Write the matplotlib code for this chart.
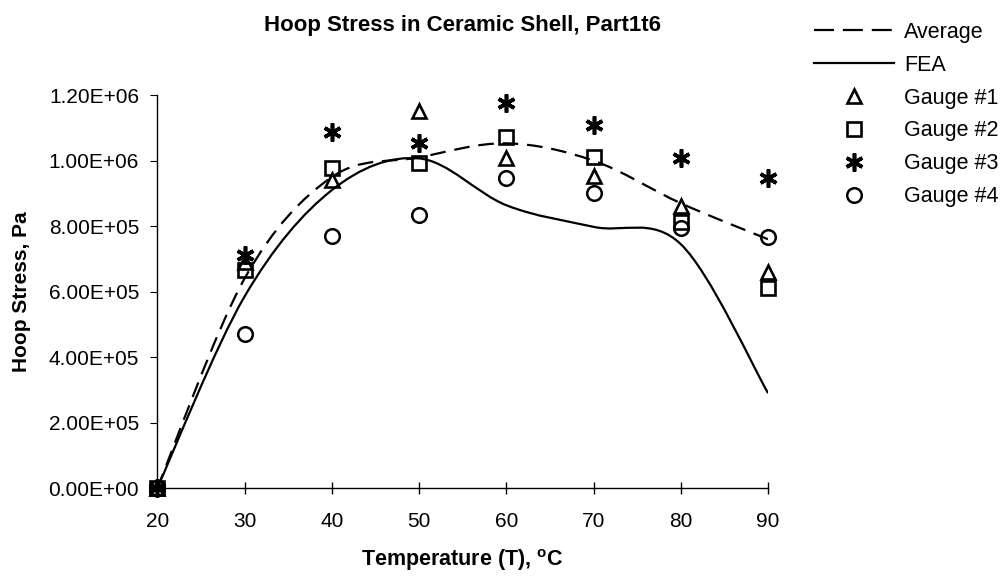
import numpy as np
import matplotlib
matplotlib.use("Agg")
import matplotlib.pyplot as plt
from matplotlib.path import Path
from matplotlib.patches import PathPatch
from matplotlib.lines import Line2D

plt.rcParams['font.family'] = ['Liberation Sans', 'DejaVu Sans']
plt.rcParams['mathtext.fontset'] = 'custom'
plt.rcParams['mathtext.bf'] = 'Liberation Sans:bold'
plt.rcParams['mathtext.rm'] = 'Liberation Sans'

# temperature steps, deg C
temps = [20, 30, 40, 50, 60, 70, 80, 90]

# measured hoop stress per gauge, Pa
gauge1 = [0, 6.90e5, 9.40e5, 1.152e6, 1.007e6, 9.53e5, 8.61e5, 6.60e5]
gauge2 = [0, 6.66e5, 9.79e5, 9.93e5, 1.072e6, 1.010e6, 8.13e5, 6.10e5]
gauge3 = [0, 7.11e5, 1.087e6, 1.054e6, 1.175e6, 1.108e6, 1.007e6, 9.46e5]
gauge4 = [0, 4.70e5, 7.69e5, 8.34e5, 9.46e5, 9.00e5, 7.94e5, 7.67e5]

# average of gauges and FEA prediction
average = [0, 6.40e5, 9.50e5, 1.010e6, 1.053e6, 1.000e6, 8.70e5, 7.60e5]
fea = [0, 5.85e5, 9.10e5, 1.007e6, 8.64e5, 7.98e5, 7.45e5, 2.90e5]

yticks = [0, 2e5, 4e5, 6e5, 8e5, 1.0e6, 1.2e6]
ytick_labels = ['0.00E+00', '2.00E+05', '4.00E+05', '6.00E+05',
                '8.00E+05', '1.00E+06', '1.20E+06']


def smooth_path(xs, ys):
    """Spreadsheet-style smoothed line: cubic Bezier through every point."""
    pts = np.column_stack([xs, ys]).astype(float)
    n = len(pts)
    verts = [pts[0]]
    codes = [Path.MOVETO]
    for i in range(n - 1):
        p0 = pts[max(i - 1, 0)]
        p1 = pts[i]
        p2 = pts[i + 1]
        p3 = pts[min(i + 2, n - 1)]
        c1 = p1 + (p2 - p0) / 6.0
        c2 = p2 - (p3 - p1) / 6.0
        verts += [c1, c2, p2]
        codes += [Path.CURVE4] * 3
    return Path(verts, codes)


fig = plt.figure(figsize=(10.08, 5.77), dpi=100)
ax = fig.add_axes([0.156, 0.154, 0.606, 0.681])

dash = (7, 4)
ax.add_patch(PathPatch(smooth_path(temps, average), fill=False, edgecolor='black',
                       lw=1.6, linestyle=(0, dash), capstyle='butt'))
ax.add_patch(PathPatch(smooth_path(temps, fea), fill=False, edgecolor='black',
                       lw=1.6))

# marker styles shared by the scatter series and the legend
open_mk = dict(linestyle='none', markerfacecolor='none', markeredgecolor='black')
styles = [
    dict(marker='^', markersize=10.5, markeredgewidth=1.9),
    dict(marker='s', markersize=10, markeredgewidth=1.9),
    dict(marker=(6, 2, 0), markersize=13, markeredgewidth=2.6),
    dict(marker='o', markersize=10.5, markeredgewidth=1.8),
]

for vals, st in zip([gauge1, gauge2, gauge3, gauge4], styles):
    ax.plot(temps, vals, clip_on=False, zorder=3, **open_mk, **st)

ax.set_xlim(20, 90)
ax.set_ylim(0, 1.2e6)
ax.set_xticks(temps)
ax.set_yticks(yticks)
ax.set_yticklabels(ytick_labels)

for side in ['top', 'right']:
    ax.spines[side].set_visible(False)
for side in ['left', 'bottom']:
    ax.spines[side].set_linewidth(1.0)

ax.tick_params(axis='x', direction='inout', length=9, width=1.0, pad=13, labelsize=15)
ax.tick_params(axis='y', direction='out', length=5, width=0.8, pad=8, labelsize=15)

ax.set_title('Hoop Stress in Ceramic Shell, Part1t6', fontsize=16,
             fontweight='bold', pad=46)
ax.set_xlabel(r'Temperature (T), $\mathbf{^{o}}$C', fontsize=15.5,
              fontweight='bold', labelpad=11)
ax.set_ylabel('Hoop Stress, Pa', fontsize=15, fontweight='bold', labelpad=13)

handles = [
    Line2D([], [], color='black', lw=1.6, linestyle=(0, (9, 4))),
    Line2D([], [], color='black', lw=1.6),
] + [Line2D([], [], **open_mk, **st) for st in styles]
labels = ['Average', 'FEA', 'Gauge #1', 'Gauge #2', 'Gauge #3', 'Gauge #4']
fig.legend(handles, labels, loc='upper left', bbox_to_anchor=(0.808, 0.962),
           frameon=False, fontsize=15.5, handlelength=3.7, handletextpad=0.45,
           labelspacing=0.55, borderaxespad=0, borderpad=0)

fig.savefig('out.png', dpi=100)
